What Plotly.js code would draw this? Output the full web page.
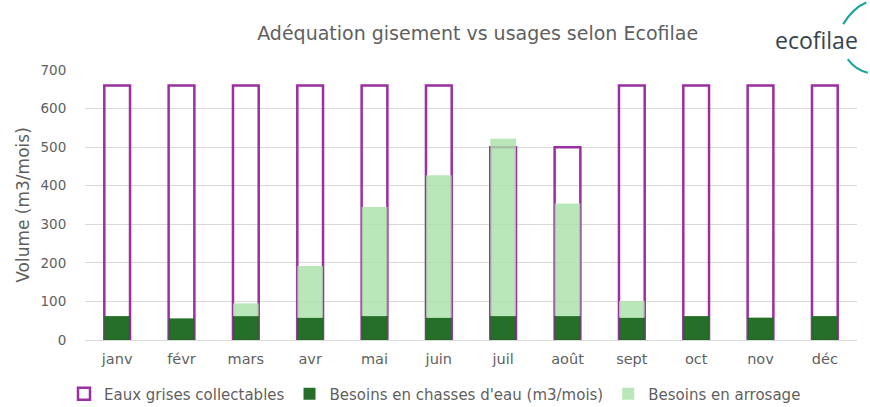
<!DOCTYPE html>
<html>
<head>
<meta charset="utf-8">
<script src="https://cdn.plot.ly/plotly-3.0.1.min.js"></script>
<style>html,body{margin:0;padding:0;background:#fff;}#chart{width:870px;height:407px;}</style>
</head>
<body>
<div id="chart"></div>
<script>
const months = ['janv','févr','mars','avr','mai','juin','juil','août','sept','oct','nov','déc'];
const eauxGrises = [660,660,660,660,660,660,500,500,660,660,660,660];
const chasses = [62,56,62,58,62,58,62,62,58,62,58,62];
const arrosage = [0,0,33,134,283,369,460,292,43,0,0,0];

const fontFam = 'DejaVu Sans, Verdana, sans-serif';
const traces = [
  {type:'bar', name:'Eaux grises collectables', x:months, y:eauxGrises,
   marker:{color:'rgba(255,255,255,0)', line:{color:'#9c2f9f', width:2.5}}, width:0.4},
  {type:'bar', name:"Besoins en chasses d'eau (m3/mois)", x:months, y:chasses,
   marker:{color:'rgba(30,106,33,0.97)', line:{width:0}}, width:0.4},
  {type:'bar', name:'Besoins en arrosage', x:months, y:arrosage, base:chasses,
   marker:{color:'rgba(170,226,170,0.82)', line:{width:0}}, width:0.4}
];
const layout = {
  width:870, height:407,
  margin:{l:85, r:13, t:70, b:67, autoexpand:false},
  barmode:'overlay',
  paper_bgcolor:'#fff', plot_bgcolor:'#fff',
  font:{family:fontFam, color:'#5f5f5f'},
  title:{text:'Adéquation gisement vs usages selon Ecofilae', x:0.549, xanchor:'center', yref:'container', y:0.919, yanchor:'middle',
         font:{size:19, color:'#5f5f5f', family:fontFam}},
  xaxis:{type:'category', showgrid:false, showline:false, ticks:'outside', ticklen:6, tickcolor:'rgba(0,0,0,0)',
         tickfont:{size:14.5, color:'#5f5f5f'}, automargin:false},
  yaxis:{range:[0,700], dtick:100, showgrid:true, gridcolor:'#d9d9d9', gridwidth:1, zeroline:true, zerolinecolor:'#d9d9d9',
         showline:false, ticks:'outside', ticklen:15, tickcolor:'rgba(0,0,0,0)', tickfont:{size:13.5, color:'#5f5f5f'},
         automargin:false,
         title:{text:'Volume (m3/mois)', font:{size:17, color:'#5f5f5f'}, standoff:6}},
  showlegend:true,
  legend:{orientation:'h', x:0.5, xref:'container', xanchor:'center', yref:'container', y:0.032, yanchor:'middle',
          font:{size:15, color:'#5f5f5f'}, traceorder:'normal', itemwidth:30},
  annotations:[
    {text:'ecofilae', xref:'paper', yref:'paper', x:1.004, xanchor:'right', y:1.11, yanchor:'middle', showarrow:false,
     font:{size:23, color:'#34444f', family:'Open Sans, sans-serif'}}
  ],
  shapes:[
    {type:'path', xref:'paper', yref:'paper', path:'M 0.982 1.17 Q 0.995 1.23 1.012 1.25', line:{color:'#1aa39a', width:2}},
    {type:'path', xref:'paper', yref:'paper', path:'M 0.988 1.04 Q 0.998 1.0 1.014 0.99', line:{color:'#1aa39a', width:2}}
  ]
};
Plotly.newPlot('chart', traces, layout, {displayModeBar:false, staticPlot:true});
</script>
</body>
</html>
